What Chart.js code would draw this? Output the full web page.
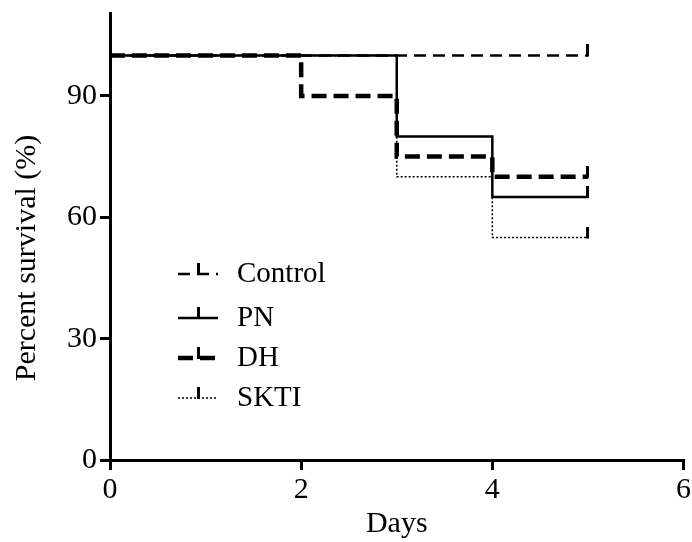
<!DOCTYPE html>
<html>
<head>
<meta charset="utf-8">
<script src="https://cdn.jsdelivr.net/npm/chart.js@4.4.1/dist/chart.umd.min.js"></script>
<style>
  html, body { margin: 0; padding: 0; background: #fff; }
</style>
</head>
<body>
<canvas id="myChart" width="692" height="542"></canvas>
<script>
// survival per group, read at each day where a step happens
const groups = ['Control', 'PN', 'DH', 'SKTI'];
const days = [0, 2, 3, 4, 5];
const control = [100, 100, 100, 100, 100];
const pn = [100, 100, 80, 65, 65];
const dh = [100, 90, 75, 70, 70];
const skti = [100, 100, 70, 55, 55];
const xTicks = [0, 2, 4, 6];
const yTicks = [0, 30, 60, 90];

const serif = '"Liberation Serif", "Times New Roman", serif';

// small upright bar used as the censor mark at the end of each curve
function censorMark() {
    const c = document.createElement('canvas');
    c.width = 3;
    c.height = 22;
    const g = c.getContext('2d');
    g.fillStyle = '#000';
    g.fillRect(0, 0, 3, 12);
    return c;
}
const mark = censorMark();

function toPoints(values) {
    return days.map((d, i) => ({ x: d, y: values[i] }));
}
function endOnly() {
    return days.map((d, i) => i === days.length - 1 ? 4 : 0);
}

const styles = [
    { width: 2.5, dash: [12, 7], order: 1 },
    { width: 2.5, dash: [], order: 2 },
    { width: 4.5, dash: [15, 7], order: 0 },
    { width: 1.5, dash: [2, 2], order: 3 }
];
const series = [control, pn, dh, skti];

const datasets = groups.map((name, i) => ({
    label: name,
    data: toPoints(series[i]),
    stepped: true,
    borderColor: '#000',
    backgroundColor: '#000',
    borderWidth: styles[i].width,
    borderDash: styles[i].dash,
    borderCapStyle: 'butt',
    order: styles[i].order,
    pointStyle: mark,
    pointRadius: endOnly(),
    pointHoverRadius: 0,
    fill: false
}));

// legend inside the plot (line sample with its mark, then the name) and the y title
const survivalLegend = {
    id: 'survivalLegend',
    afterDatasetsDraw(chart) {
        const ctx = chart.ctx;
        const rows = [274, 318, 358, 398];
        ctx.save();
        groups.forEach((name, i) => {
            const y = rows[i];
            ctx.strokeStyle = '#000';
            ctx.lineWidth = styles[i].width;
            ctx.setLineDash(styles[i].dash);
            ctx.beginPath();
            ctx.moveTo(178, y);
            ctx.lineTo(218, y);
            ctx.stroke();
            ctx.setLineDash([]);
            ctx.drawImage(mark, 198 - 1.5, y - 11);
            ctx.fillStyle = '#000';
            ctx.font = '29px ' + serif;
            ctx.textAlign = 'left';
            ctx.textBaseline = 'middle';
            ctx.fillText(name, 237, y);
        });

        ctx.translate(27, 258);
        ctx.rotate(-Math.PI / 2);
        ctx.font = '30px ' + serif;
        ctx.textAlign = 'center';
        ctx.textBaseline = 'middle';
        ctx.fillText('Percent survival (%)', 0, 0);
        ctx.restore();
    }
};

function noPad(s) {
    s.paddingLeft = 0;
    s.paddingRight = 0;
    s.paddingTop = 0;
    s.paddingBottom = 0;
}

const ctx = document.getElementById('myChart');
const myChart = new Chart(ctx, {
    type: 'line',
    data: { datasets: datasets },
    plugins: [survivalLegend],
    options: {
        responsive: false,
        animation: false,
        layout: { padding: { top: 13, right: 7, left: 0, bottom: 0 } },
        plugins: {
            legend: { display: false },
            tooltip: { enabled: false }
        },
        scales: {
            x: {
                type: 'linear',
                min: 0,
                max: 6,
                afterBuildTicks: s => { s.ticks = xTicks.map(v => ({ value: v })); },
                afterFit: s => { s.height = 82; noPad(s); },
                grid: { drawOnChartArea: false, drawTicks: true, tickLength: 10, lineWidth: 3, color: '#000' },
                border: { display: true, width: 3, color: '#000' },
                ticks: { color: '#000', font: { family: serif, size: 30 }, padding: 2, maxRotation: 0 },
                title: { display: true, text: 'Days', color: '#000', font: { family: serif, size: 30 }, padding: { top: 0, bottom: 0 } }
            },
            y: {
                min: 0,
                max: 110.5,
                afterBuildTicks: s => { s.ticks = yTicks.map(v => ({ value: v })); },
                afterFit: s => { s.width = 110; noPad(s); },
                grid: { drawOnChartArea: false, drawTicks: true, tickLength: 10, lineWidth: 3, color: '#000' },
                border: { display: true, width: 3, color: '#000' },
                ticks: { color: '#000', font: { family: serif, size: 30 }, padding: 3 }
            }
        }
    }
});
</script>
</body>
</html>
